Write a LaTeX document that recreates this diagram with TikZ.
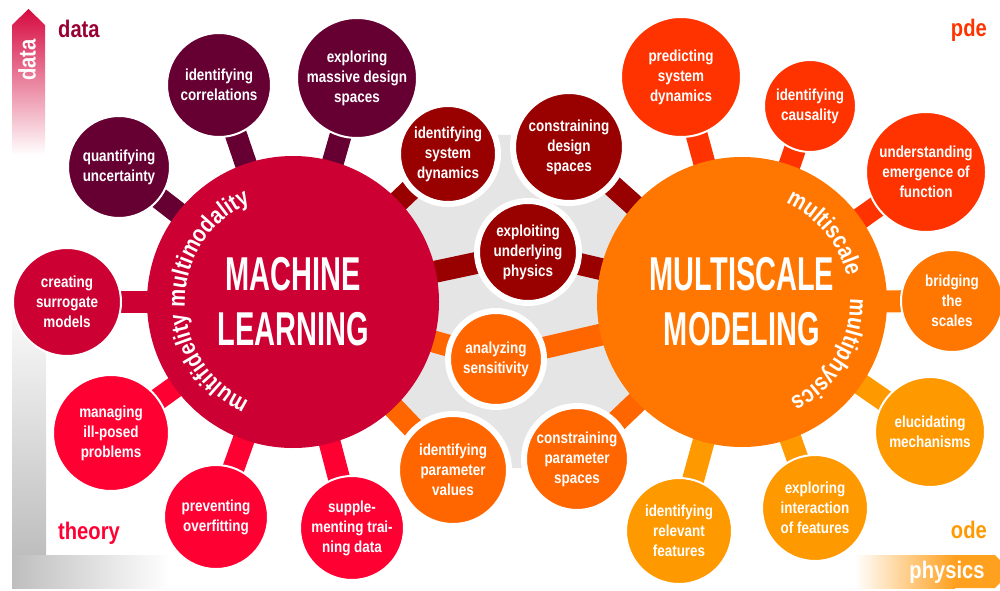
\documentclass[tikz,border=0pt]{standalone}
\usepackage{fontspec}
\setmainfont{Liberation Sans}
\newfontfamily\bubblefont{Liberation Sans}[FakeStretch=0.84]
\newfontfamily\titlefont{Liberation Sans}[FakeStretch=0.61]
\usetikzlibrary{positioning,backgrounds,decorations.text}
\newcommand\curvefont{\bubblefont\bfseries\fontsize{24}{24}\selectfont}

\begin{document}
\begin{tikzpicture}[x=1pt,y=1pt,
  bubble/.style={circle,inner sep=0pt,draw=white,line width=2pt,text=white,align=center,
    font=\bubblefont\bfseries\fontsize{16}{20}\selectfont},
  ringed/.style={bubble,line width=6pt},
  hub/.style={circle,inner sep=0pt,text=white,align=center,
    font=\titlefont\bfseries\fontsize{47.5}{55}\selectfont},
  bar/.style={line width=22pt},
  corner/.style={anchor=base,inner sep=0pt,font=\bubblefont\bfseries\fontsize{24}{24}\selectfont},
  arcnote/.style={decorate,decoration={text along path,text color=white,text align=center,text={|\curvefont|#1}}}]
\definecolor{mlred}{RGB}{204,0,51}
\definecolor{wine}{RGB}{102,0,51}
\definecolor{brightred}{RGB}{255,0,51}
\definecolor{darkred}{RGB}{153,0,0}
\definecolor{midorange}{RGB}{255,102,0}
\definecolor{msorange}{RGB}{255,119,0}
\definecolor{redorange}{RGB}{255,51,0}
\definecolor{amber}{RGB}{255,153,0}
\definecolor{midgray}{gray}{0.9}
\definecolor{axisgray}{RGB}{190,190,190}
\definecolor{dataarrow}{RGB}{214,10,64}
\definecolor{physarrow}{RGB}{255,160,30}
\definecolor{datatext}{RGB}{153,0,51}
\path[use as bounding box] (0,0) rectangle (1000,590);

% axes
\shade[bottom color=axisgray,top color=white] (12,35) rectangle (46,300);
\shade[left color=axisgray,right color=white] (12,2) rectangle (170,35);
\shade[top color=dataarrow,bottom color=white] (12,435) -- (12,565) -- (28.5,581) -- (45,565) -- (45,435) -- cycle;
\shade[left color=white,right color=physarrow] (855,2) rectangle (955,35);
\fill[physarrow] (954,2) -- (954,35) -- (995,35) -- (1011,18.5) -- (995,2) -- cycle;
\node[corner,anchor=center,rotate=90,text=white] (dataaxis) at (27,530) {data};
\node[corner,text=white] (physaxis) at (947,12) {physics};
\node[corner,anchor=base west,text=datatext] (datalabel) at (58,552) {data};
\node[corner,anchor=base west,text=brightred] (theorylabel) at (58,51) {theory};
\node[corner,anchor=base east,text=redorange] (pdelabel) at (987,553) {pde};
\node[corner,anchor=base east,text=amber] (odelabel) at (987,52) {ode};

% hubs
\node[hub,fill=mlred,minimum size=292] (ML) at (293,288) {MACHINE\\LEARNING};
\node[hub,fill=msorange,minimum size=290] (MS) at (742,288) {MULTISCALE\\MODELING};

% machine learning side
\node[bubble,fill=wine,minimum size=102] (quant) at (119,423) {quantifying\\uncertainty};
\node[bubble,fill=wine,minimum size=104] (correl) at (219,505) {identifying\\correlations};
\node[bubble,fill=wine,minimum size=120] (massive) at (357,512) {exploring\\massive design\\spaces};
\node[bubble,fill=mlred,minimum size=108] (surrogate) at (67,288) {creating\\surrogate\\models};
\node[bubble,fill=brightred,minimum size=116] (illposed) at (111,157) {managing\\ill-posed\\problems};
\node[bubble,fill=brightred,minimum size=104] (overfit) at (216,73) {preventing\\overfitting};
\node[bubble,fill=brightred,minimum size=104] (supple) at (352,62) {supple-\\menting trai-\\ning data};

% in between
\node[ringed,fill=darkred,minimum size=100] (sysdyn) at (448,436) {identifying\\system\\dynamics};
\node[ringed,fill=darkred,minimum size=112] (designsp) at (569,443) {constraining\\design\\spaces};
\node[ringed,fill=darkred,minimum size=102] (physics) at (528,338) {exploiting\\underlying\\physics};
\node[ringed,fill=midorange,minimum size=96] (sens) at (496,231) {analyzing\\sensitivity};
\node[ringed,fill=midorange,minimum size=112] (paramval) at (453,120) {identifying\\parameter\\values};
\node[ringed,fill=midorange,minimum size=106] (paramsp) at (577,131) {constraining\\parameter\\spaces};

% multiscale modeling side
\node[bubble,fill=redorange,minimum size=120] (predict) at (681,513) {predicting\\system\\dynamics};
\node[bubble,fill=redorange,minimum size=92] (causal) at (810,484) {identifying\\causality};
\node[bubble,fill=redorange,minimum size=120] (emerge) at (926,418) {understanding\\emergence of\\function};
\node[bubble,fill=msorange,minimum size=102] (bridge) at (952,289) {bridging\\the\\scales};
\node[bubble,fill=amber,minimum size=110] (elucid) at (930,158) {elucidating\\mechanisms};
\node[bubble,fill=amber,minimum size=106] (interact) at (815,82) {exploring\\interaction\\of features};
\node[bubble,fill=amber,minimum size=106] (relevant) at (679,59) {identifying\\relevant\\features};

\begin{scope}[on background layer]
\fill[midgray] (386,377) -- (448,436) -- (448,455) -- (569,455) -- (569,443) -- (655,366)
  -- (650,210) -- (643,194) -- (577,131) -- (577,122) -- (453,122) -- (453,120) -- (389,187) -- cycle;
\draw[bar,wine] (ML.center) -- (quant.center);
\draw[bar,wine] (ML.center) -- (correl.center);
\draw[bar,wine] (ML.center) -- (massive.center);
\draw[bar,mlred] (ML.center) -- (surrogate.center);
\draw[bar,brightred] (ML.center) -- (illposed.center);
\draw[bar,brightred] (ML.center) -- (overfit.center);
\draw[bar,brightred] (ML.center) -- (supple.center);
\draw[bar,darkred] (ML.center) -- (sysdyn.center);
\draw[bar,darkred] (ML.center) -- (physics.center);
\draw[bar,darkred] (MS.center) -- (physics.center);
\draw[bar,darkred] (MS.center) -- (designsp.center);
\draw[bar,midorange] (ML.center) -- (sens.center);
\draw[bar,midorange] (MS.center) -- (sens.center);
\draw[bar,midorange] (ML.center) -- (paramval.center);
\draw[bar,midorange] (MS.center) -- (paramsp.center);
\draw[bar,redorange] (MS.center) -- (predict.center);
\draw[bar,redorange] (MS.center) -- (causal.center);
\draw[bar,redorange] (MS.center) -- (emerge.center);
\draw[bar,msorange] (MS.center) -- (bridge.center);
\draw[bar,amber] (MS.center) -- (elucid.center);
\draw[bar,amber] (MS.center) -- (interact.center);
\draw[bar,amber] (MS.center) -- (relevant.center);
\end{scope}

% words round the hubs
\path[arcnote=multimodality] ([shift={(208:108)}]ML.center) arc[start angle=208,end angle=88,radius=108];
\path[arcnote=multifidelity] ([shift={(276:108)}]ML.center) arc[start angle=276,end angle=156,radius=108];
\path[arcnote=multiscale] ([shift={(100:108)}]MS.center) arc[start angle=100,end angle=-20,radius=108];
\path[arcnote=multiphysics] ([shift={(29:108)}]MS.center) arc[start angle=29,end angle=-91,radius=108];
\end{tikzpicture}
\end{document}
